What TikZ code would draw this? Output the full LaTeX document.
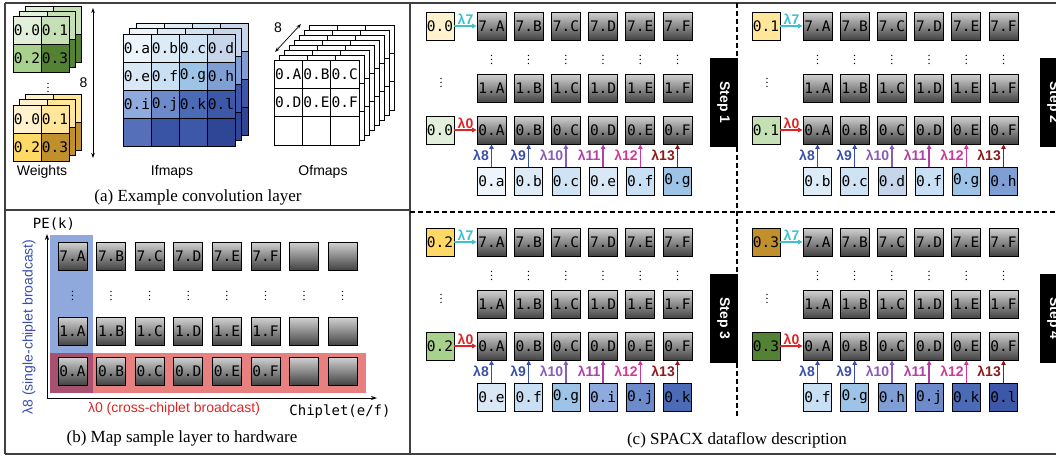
\documentclass[tikz,border=0pt]{standalone}
\usepackage{fontspec}
\setmainfont{Liberation Serif}
\setsansfont{Liberation Sans}
\setmonofont{DejaVu Sans Mono}
\usetikzlibrary{positioning,arrows.meta}
\newcommand{\cellfont}{\ttfamily\fontsize{14.5}{14.5}\selectfont}
\newcommand{\axisfont}{\ttfamily\fontsize{14}{14}\selectfont}
\newcommand{\lblfont}{\sffamily\fontsize{14}{14}\selectfont}
\newcommand{\lamfont}{\sffamily\bfseries\fontsize{14}{14}\selectfont}
\newcommand{\capfont}{\rmfamily\fontsize{17}{17}\selectfont}
% weight colours
\definecolor{wgA}{HTML}{E2EFDA}\definecolor{wgB}{HTML}{C5E0B4}
\definecolor{wgC}{HTML}{A9D18E}\definecolor{wgD}{HTML}{548235}
\definecolor{wyA}{HTML}{FFF2CC}\definecolor{wyB}{HTML}{FFE699}
\definecolor{wyC}{HTML}{FFD966}\definecolor{wyD}{HTML}{C0902C}
% ifmap colours
\definecolor{ina}{HTML}{EEF4FB}\definecolor{inb}{HTML}{DDEBF7}
\definecolor{inc}{HTML}{CFE3F5}\definecolor{ind}{HTML}{C7D5EB}
\definecolor{ine}{HTML}{DAE8F6}\definecolor{inf}{HTML}{C9DFF3}
\definecolor{ing}{HTML}{9DC3E6}\definecolor{inh}{HTML}{7F9FD4}
\definecolor{ini}{HTML}{8FAADC}\definecolor{inj}{HTML}{6D8BCA}
\definecolor{ink}{HTML}{4C6BB7}\definecolor{inl}{HTML}{3D58A8}
\definecolor{inm}{HTML}{5570B8}\definecolor{inn}{HTML}{3A54A5}
\definecolor{ino}{HTML}{3D58A8}\definecolor{inp}{HTML}{2F4696}
% broadcast colours
\definecolor{lam7}{HTML}{3EC1CC}\definecolor{lam0}{HTML}{E02424}
\definecolor{lam8}{HTML}{3A4FA8}\definecolor{lam9}{HTML}{3A4FA8}
\definecolor{lam10}{HTML}{8A5CB8}\definecolor{lam11}{HTML}{B040A8}
\definecolor{lam12}{HTML}{D0389A}\definecolor{lam13}{HTML}{8B1A1A}
\definecolor{bluebg}{HTML}{8FA9DC}\definecolor{redbg}{HTML}{E88080}
\definecolor{mixbg}{HTML}{A8506F}

\begin{document}
\begin{tikzpicture}[x=1pt,y=-1pt,
  cellbox/.style={draw=black,line width=0.8pt,minimum width=28pt,minimum height=28pt,inner sep=0pt,font=\cellfont},
  celltext/.style={inner sep=0pt,font=\cellfont},
  layerline/.style={draw=black,line width=0.8pt},
  pebox/.style={cellbox,minimum width=29pt,top color=black!18,bottom color=black!74},
  lamarrow/.style={line width=1.4pt,-{Triangle[length=4.5pt,width=4.5pt]}},
  lamlbl/.style={font=\lamfont,inner sep=1pt},
  dimarrow/.style={line width=0.7pt,{Stealth[length=5pt,width=3.5pt]}-{Stealth[length=5pt,width=3.5pt]}},
  axisarrow/.style={line width=0.8pt,-{Stealth[length=6pt,width=4pt]}},
  frameline/.style={line width=1.4pt,draw=black!75},
  splitline/.style={line width=1.1pt,dash pattern=on 5pt off 3pt},
  stepbox/.style={fill=black,text=white,font=\lamfont,minimum width=89pt,minimum height=28pt,inner sep=0pt,rotate=-90},
  vdot/.style={font=\fontsize{12}{12}\selectfont,inner sep=0pt}]
  \useasboundingbox (0,0) rectangle (1056,456);

  % ---------- (a) example convolution layer ----------
  \foreach \k in {2,1,0}{
    \foreach \c/\px/\py in {wgA/13/16,wgB/41/16,wgC/13/44,wgD/41/44}
      \draw[layerline,fill=\c] ({\px+6*\k},{\py-5*\k}) rectangle ++(28,28);
    \foreach \c/\px/\py in {wyA/13/105,wyB/41/105,wyC/13/133,wyD/41/133}
      \draw[layerline,fill=\c] ({\px+6*\k},{\py-5.5*\k}) rectangle ++(28,28);
  }
  \foreach \t/\px/\py [count=\n] in {0.0/27/30,0.1/55/30,0.2/27/58,0.3/55/58}{
    \node[celltext] (gw\n) at (\px,\py) {\t};
    \node[celltext] (yw\n) at (\px,{\py+89}) {\t};
  }
  \node[vdot] (wdots) at (48,85) {$\vdots$};
  \coordinate (wtop) at (93,8);
  \coordinate (wbot) at (93,158);
  \draw[dimarrow] (wtop) -- (wbot) node[midway,left=2pt,font=\lblfont] {8};
  \node[font=\lblfont] (wlbl) at (42,172) {Weights};

  \foreach \k in {2,1,0}
    \foreach \c [count=\n from 0] in {ina,inb,inc,ind,ine,inf,ing,inh,ini,inj,ink,inl,inm,inn,ino,inp}
      \draw[layerline,fill=\c] ({123+28*mod(\n,4)+6.5*\k},{34+28*div(\n,4)-5.5*\k}) rectangle ++(28,28);
  \foreach \t [count=\n from 0] in {a,b,c,d,e,f,g,h,i,j,k,l}
    \node[celltext] (if\t) at ({137+28*mod(\n,4)},{48+28*div(\n,4)}) {0.\t};
  \node[font=\lblfont] (iflbl) at (172,172) {Ifmaps};

  \foreach \k in {7,...,0}
    \foreach \r in {0,1,2}
      \foreach \q in {0,1,2}
        \draw[layerline,fill=white] ({274+28.3*\q+5*\k},{60+28.3*\r-5*\k}) rectangle ++(28.3,28.3);
  \foreach \t [count=\n from 0] in {A,B,C,D,E,F}
    \node[celltext] (of\t) at ({288.15+28.3*mod(\n,3)},{74.15+28.3*div(\n,3)}) {0.\t};
  \coordinate (oflo) at (275,52);
  \coordinate (ofhi) at (301,24);
  \draw[dimarrow] (oflo) -- (ofhi);
  \node[font=\lblfont] (ofn) at (278,28) {8};
  \node[font=\lblfont] (oflbl) at (323,172) {Ofmaps};
  \node[font=\capfont] (capa) at (198,197) {(a) Example convolution layer};

  % ---------- (b) mapping to hardware ----------
  \fill[bluebg] (50,235) rectangle (93,393);
  \fill[redbg] (50,353) rectangle (366,393);
  \fill[mixbg] (50,353) rectangle (93,393);
  \coordinate (origin) at (47,398);
  \coordinate (yend) at (47,234);
  \coordinate (xend) at (377,398);
  \draw[axisarrow] (origin) -- (yend);
  \draw[axisarrow] (origin) -- (xend);
  \node[font=\axisfont] (pek) at (54,224) {PE(k)};
  \node[font=\axisfont] (chip) at (340,412) {Chiplet(e/f)};
  \node[font=\lblfont,text=lam8,rotate=90] (lam8lbl) at (29,327) {λ8 (single-chiplet broadcast)};
  \node[font=\lblfont,text=lam0] (lam0lbl) at (174,409) {λ0 (cross-chiplet broadcast)};
  \foreach \L [count=\i from 0] in {A,B,C,D,E,F}{
    \node[pebox] (b7-\i) at ({72.5+38.6*\i},256) {7.\L};
    \node[pebox] (b1-\i) at ({72.5+38.6*\i},331.5) {1.\L};
    \node[pebox] (b0-\i) at ({72.5+38.6*\i},371) {0.\L};
  }
  \foreach \i in {6,7}{
    \node[pebox] (b7-\i) at ({72.5+38.6*\i},256) {};
    \node[pebox] (b1-\i) at ({72.5+38.6*\i},331.5) {};
    \node[pebox] (b0-\i) at ({72.5+38.6*\i},371) {};
  }
  \foreach \i in {0,...,7}
    \node[vdot] (bdot-\i) at ({72.5+38.6*\i},293) {$\vdots$};
  \node[font=\capfont] (capb) at (182,438) {(b) Map sample layer to hardware};

  % ---------- (c) dataflow steps ----------
  \foreach \s/\dx/\dy/\bx/\wv/\wyc/\wgc/\ins in {
      1/0/0/723.5/0.0/wyA/wgA/{a,b,c,e,f,g},
      2/326/0/1053.5/0.1/wyB/wgB/{b,c,d,f,g,h},
      3/0/216/723.5/0.2/wyC/wgC/{e,f,g,i,j,k},
      4/326/216/1053.5/0.3/wyD/wgD/{f,g,h,j,k,l}}{
    \node[stepbox] (step\s) at (\bx,{102.5+\dy}) {Step \s};
    \begin{scope}[shift={(\dx,\dy)}]
      \node[cellbox,fill=\wyc] (s\s-w7) at (440,26) {\wv};
      \node[cellbox,fill=\wgc] (s\s-w0) at (440,130) {\wv};
      \node[vdot] (s\s-wdot) at (441,80) {$\vdots$};
      \foreach \L [count=\i from 0] in {A,B,C,D,E,F}{
        \node[pebox] (s\s-7-\i) at ({491.5+37.2*\i},26) {7.\L};
        \node[vdot] (s\s-d-\i) at ({491.5+37.2*\i},57) {$\vdots$};
        \node[pebox] (s\s-1-\i) at ({491.5+37.2*\i},88.5) {1.\L};
        \node[pebox] (s\s-0-\i) at ({491.5+37.2*\i},130) {0.\L};
      }
      \draw[lamarrow,draw=lam7] (s\s-w7) -- (s\s-7-0) node[midway,above=0pt,lamlbl,text=lam7] {λ7};
      \draw[lamarrow,draw=lam0] (s\s-w0) -- (s\s-0-0) node[midway,above=0pt,lamlbl,text=lam0] {λ0};
      \foreach \c [count=\i from 0] in \ins {
        \pgfmathtruncatemacro\n{8+\i}
        \node[cellbox,fill=in\c] (s\s-in-\i) at ({491.5+37.2*\i},181) {0.\c};
        \draw[lamarrow,draw=lam\n] (s\s-in-\i) -- (s\s-0-\i) node[midway,left=1pt,lamlbl,text=lam\n] {λ\n};
      }
    \end{scope}
  }
  \node[font=\capfont] (capc) at (737,440) {(c) SPACX dataflow description};

  % frame
  \draw[frameline] (5,3) -- (1056,3);
  \draw[frameline] (5,454) -- (1056,454);
  \draw[frameline] (5,3) -- (5,454);
  \draw[frameline] (410,3) -- (410,454);
  \draw[frameline] (5,210) -- (410,210);
  \draw[splitline] (737,3) -- (737,418);
  \draw[splitline] (410,212) -- (1056,212);
\end{tikzpicture}
\end{document}
